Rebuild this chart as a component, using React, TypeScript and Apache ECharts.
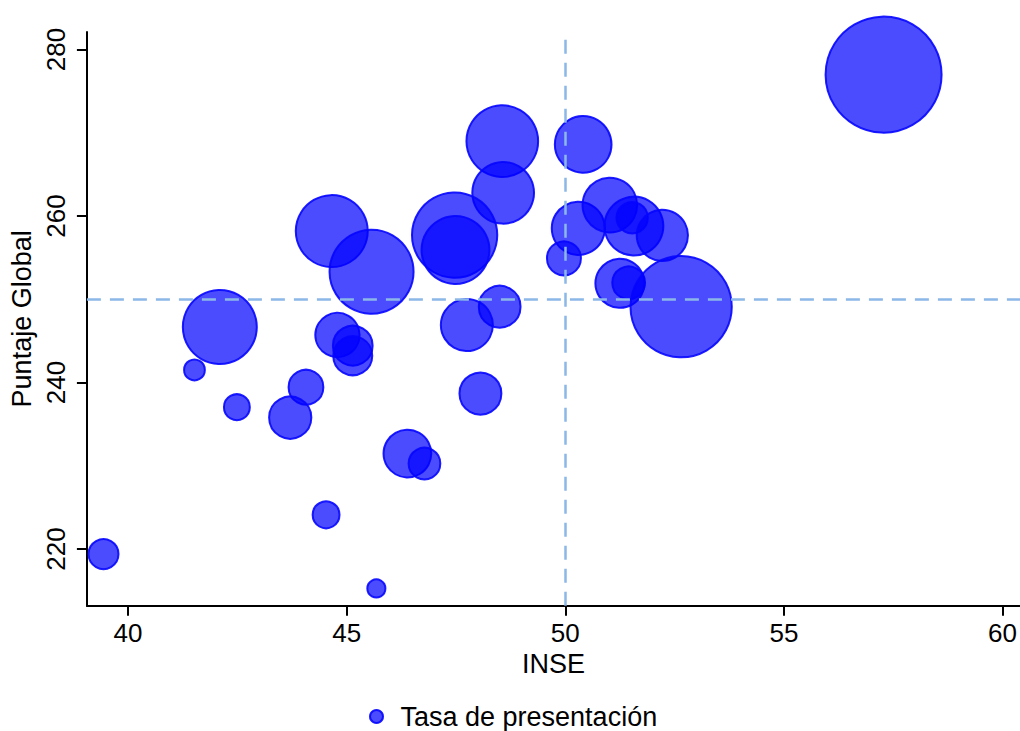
import React, { useEffect, useRef } from "react";
import * as echarts from "echarts";

const inse = [57.28, 42.1, 41.52, 42.49, 44.07, 43.71, 44.66, 45.57, 44.79, 45.14, 45.14, 48.56, 48.58, 50.41, 47.47, 47.49, 48.5, 47.75, 50.3, 49.97, 51.02, 51.57, 51.53, 52.22, 51.25, 51.45, 52.65, 48.06, 46.39, 46.78, 44.53, 45.68, 39.44];
const puntaje = [276.98, 246.67, 241.51, 237.04, 239.44, 235.79, 258.19, 253.31, 245.71, 244.43, 243.23, 268.99, 262.79, 268.6, 257.71, 255.92, 249.11, 246.91, 258.52, 254.92, 261.31, 258.79, 259.79, 257.68, 251.92, 251.99, 249.11, 238.67, 231.47, 230.27, 224.11, 215.27, 219.4];
const tasa = [96.7, 40.1, 3.6, 5.4, 9.4, 13.6, 38.0, 51.4, 14.9, 12.1, 11.7, 37.7, 28.2, 23.9, 52.9, 34.0, 13.3, 20.3, 21.2, 9.0, 22.3, 25.8, 7.7, 19.7, 18.1, 8.4, 74.1, 13.4, 17.2, 7.9, 5.8, 2.8, 7.1];

const xTicks = [40, 45, 50, 55, 60];
const yTicks = [220, 240, 260, 280];
const xRef = 50;
const yRef = 250;

export default function App() {
  const ref = useRef<HTMLDivElement>(null);
  useEffect(() => {
    if (!ref.current) return;
    const chart = echarts.init(ref.current, null, { renderer: "svg" });
    const font = "Liberation Sans, Arial, sans-serif";
    const data = inse.map((x, i) => [x, puntaje[i], tasa[i]]);
    chart.setOption({
      animation: false,
      backgroundColor: "#ffffff",
      textStyle: { fontFamily: font, color: "#000" },
      grid: { left: 86, right: 0, top: 32, bottom: 125.3, containLabel: false },
      legend: {
        data: ["Tasa de presentación"],
        left: 369,
        top: 703,
        padding: 0,
        itemWidth: 38,
        itemHeight: 13,
        icon: "circle",
        textStyle: { fontSize: 27, color: "#000", fontFamily: font, padding: [0, 0, 0, 0] },
      },
      xAxis: {
        type: "value",
        min: 39.06,
        max: 60.4,
        name: "INSE",
        nameLocation: "middle",
        nameGap: 42,
        nameTextStyle: { fontSize: 27, color: "#000", fontFamily: font, verticalAlign: "top" },
        axisLine: { show: true, lineStyle: { color: "#000", width: 2 } },
        axisTick: { show: true, length: 10, lineStyle: { color: "#000", width: 2 }, customValues: xTicks },
        axisLabel: { fontSize: 26, color: "#000", margin: 14, fontFamily: font, customValues: xTicks },
        splitLine: { show: false },
      },
      yAxis: {
        type: "value",
        min: 213.2,
        max: 282.1,
        name: "Puntaje Global",
        nameLocation: "middle",
        nameGap: 47,
        nameTextStyle: { fontSize: 27, color: "#000", fontFamily: font },
        axisLine: { show: true, lineStyle: { color: "#000", width: 2 } },
        axisTick: { show: true, length: 10, lineStyle: { color: "#000", width: 2 }, customValues: yTicks },
        axisLabel: { fontSize: 26, color: "#000", margin: 18, rotate: 90, fontFamily: font, customValues: yTicks },
        splitLine: { show: false },
      },
      series: [
        {
          type: "scatter",
          name: "ref",
          data: [],
          z: 1,
          silent: true,
          markLine: {
            silent: true,
            symbol: "none",
            label: { show: false },
            lineStyle: { color: "#8cb8e8", width: 2.5, type: [14, 9], opacity: 1 },
            data: [{ xAxis: xRef }, { yAxis: yRef }],
          },
        },
        {
          type: "scatter",
          name: "Tasa de presentación",
          z: 2,
          data,
          symbolSize: (v: number[]) => 12 * Math.sqrt(v[2]) - 2,
          itemStyle: {
            color: "rgba(0,0,255,0.7)",
            borderColor: "rgba(5,5,255,0.9)",
            borderWidth: 2,
            opacity: 1,
          },
        },
      ],
    });
    return () => chart.dispose();
  }, []);
  return <div ref={ref} style={{ position: "absolute", left: 0, top: 0, width: 1020, height: 731 }} />;
}
